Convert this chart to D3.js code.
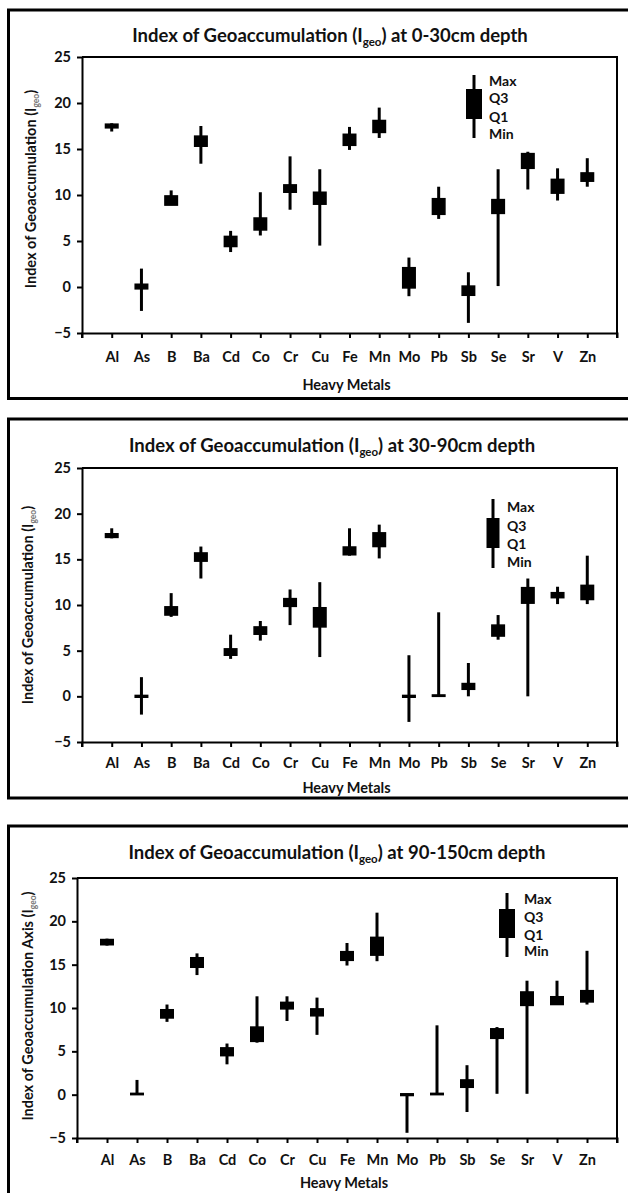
<!DOCTYPE html>
<html><head><meta charset="utf-8">
<script src="https://cdn.jsdelivr.net/npm/d3@7"></script>
<style>
html,body{margin:0;padding:0;background:#fff;}
svg{display:block;}
text{font-family:Lato,"Open Sans",sans-serif;font-weight:700;fill:#111;}
</style></head>
<body>
<svg id="chart" width="628" height="1193"></svg>
<script>
// ---- data ----
const categories = ["Al","As","B","Ba","Cd","Co","Cr","Cu","Fe","Mn","Mo","Pb","Sb","Se","Sr","V","Zn"];
const yTicks = [-5,0,5,10,15,20,25];
const depthLabels = ["0-30cm","30-90cm","90-150cm"];
const legendLabels = ["Max","Q3","Q1","Min"];
const xAxisTitle = "Heavy Metals";
const yAxisTitles = ["Index of Geoaccumulation  (I","Index of Geoaccumulation  (I","Index of Geoaccumulation  Axis (I"];

// 0-30 cm
const min1 = [16.9,-2.6,8.9,13.4,3.8,5.6,8.4,4.5,14.9,16.2,-1.0,7.4,-3.9,0.1,10.6,9.4,10.9];
const q1_1 = [17.3,-0.2,8.9,15.3,4.4,6.2,10.3,9.0,15.4,16.8,-0.1,7.9,-0.9,8.0,12.9,10.2,11.5];
const q3_1 = [17.7,0.3,9.9,16.4,5.5,7.5,11.1,10.3,16.6,18.1,2.1,9.6,0.1,9.5,14.5,11.7,12.4];
const max1 = [17.8,2.0,10.5,17.5,6.1,10.3,14.2,12.8,17.4,19.5,3.2,10.9,1.6,12.8,14.7,12.9,14.0];
// 30-90 cm
const min2 = [17.3,-2.0,8.7,12.9,4.1,6.1,7.8,4.3,15.4,15.1,-2.8,0,0,6.2,0,10.1,10.1];
const q1_2 = [17.4,-0.1,8.9,14.8,4.5,6.8,9.85,7.6,15.5,16.4,-0.1,0,0.77,6.6,10.2,10.8,10.6];
const q3_2 = [17.8,0.1,9.8,15.7,5.2,7.6,10.7,9.7,16.35,17.9,0.1,0.15,1.4,7.8,11.9,11.35,12.15];
const max2 = [18.4,2.1,11.3,16.4,6.75,8.25,11.7,12.5,18.4,18.8,4.5,9.2,3.65,8.9,12.9,12.0,15.4];
// 90-150 cm
const min3 = [17.2,0,8.4,13.8,3.5,6.0,8.5,6.9,14.9,15.4,-4.4,0,-2.0,0.1,0.1,10.4,10.4];
const q1_3 = [17.3,0,8.85,14.7,4.5,6.15,9.9,9.1,15.5,16.1,-0.1,0,0.85,6.5,10.3,10.4,10.7];
const q3_3 = [17.9,0.15,9.8,15.8,5.4,7.8,10.65,9.9,16.5,18.15,0.1,0.15,1.7,7.6,11.85,11.3,12.0];
const max3 = [18.0,1.7,10.4,16.3,5.9,11.35,11.35,11.2,17.5,21.0,0.1,8.0,3.4,7.8,13.15,13.15,16.6];

const seriesByPanel = [
  {min:min1,q1:q1_1,q3:q3_1,max:max1},
  {min:min2,q1:q1_2,q3:q3_2,max:max2},
  {min:min3,q1:q1_3,q3:q3_3,max:max3}
];

// ---- layout (pixels) ----
const layouts = [
  {frameTop:10, frameBottom:398.5, left:82, right:617, top:57, bottom:333, titleY:36, titleX:330,
   xLabY:357, xTitleY:385, yTitleX:31, yTitleY:189,
   leg:{x:474, wTop:75, wBot:138, bTop:89, bBot:119, bw:16, lx:489, ly:[81,98,117,134]}},
  {frameTop:419, frameBottom:798, left:82, right:617, top:468, bottom:742, titleY:446, titleX:332,
   xLabY:763, xTitleY:788, yTitleX:28, yTitleY:605,
   leg:{x:493, wTop:499, wBot:568, bTop:518, bBot:548, bw:13, lx:507, ly:[507,526,544,562]}},
  {frameTop:826, frameBottom:1205, left:77, right:617, top:878, bottom:1138, titleY:853, titleX:337,
   xLabY:1160, xTitleY:1183, yTitleX:28, yTitleY:1006,
   leg:{x:507, wTop:893, wBot:957, bTop:909, bBot:938, bw:16, lx:524, ly:[899,917,935,951]}}
];

const svg = d3.select("#chart");
const boxW = 12.5;

layouts.forEach((L, p) => {
  const S = seriesByPanel[p];
  const g = svg.append("g");

  // outer frame
  g.append("rect").attr("x",8.5).attr("y",L.frameTop).attr("width",640)
    .attr("height",L.frameBottom-L.frameTop).attr("fill","none")
    .attr("stroke","#000").attr("stroke-width",3);

  const x = d3.scalePoint().domain(categories).range([L.left, L.right]).padding(1);
  const y = d3.scaleLinear().domain([-5,25]).range([L.bottom, L.top]);

  // plot area top/right border
  g.append("path").attr("d",`M${L.left},${L.top}H${L.right}V${L.bottom}`)
    .attr("fill","none").attr("stroke","#000").attr("stroke-width",2);

  // y axis
  const ya = g.append("g").attr("transform",`translate(${L.left},0)`)
    .call(d3.axisLeft(y).tickValues(yTicks).tickSize(5).tickPadding(6).tickSizeOuter(0));
  ya.select(".domain").attr("stroke","#000").attr("stroke-width",2);
  ya.selectAll(".tick line").attr("stroke","#000").attr("stroke-width",2);
  ya.selectAll(".tick text").attr("font-size",14.5).attr("font-family","Lato").attr("font-weight",700).attr("fill","#111");

  // x axis
  const xa = g.append("g").attr("transform",`translate(0,${L.bottom})`)
    .call(d3.axisBottom(x).tickSize(5).tickSizeOuter(5).tickPadding(0));
  xa.select(".domain").attr("stroke","#000").attr("stroke-width",2);
  xa.selectAll(".tick line").attr("stroke","#000").attr("stroke-width",2);
  xa.selectAll(".tick text").attr("font-size",14.5).attr("font-family","Lato").attr("font-weight",700)
    .attr("fill","#111").attr("y", L.xLabY - L.bottom).attr("dy","0.35em");
  // end ticks
  [L.left, L.right].forEach(px => {
    g.append("line").attr("x1",px).attr("x2",px).attr("y1",L.bottom).attr("y2",L.bottom+5)
      .attr("stroke","#000").attr("stroke-width",2);
  });

  // title
  const t = g.append("text").attr("x",L.titleX).attr("y",L.titleY).attr("dy","0.35em")
    .attr("text-anchor","middle").attr("font-size",18.5);
  t.append("tspan").text("Index of Geoaccumulation (I");
  t.append("tspan").text("geo").attr("font-size",11.5).attr("dy",4);
  t.append("tspan").text(`) at ${depthLabels[p]} depth`).attr("dy",-4);

  // x axis title
  g.append("text").attr("x",(L.left+L.right)/2 - 3).attr("y",L.xTitleY).attr("dy","0.35em")
    .attr("text-anchor","middle").attr("font-size",14.5).text(xAxisTitle);

  // y axis title
  const yt = g.append("text").attr("transform",`translate(${L.yTitleX},${L.yTitleY}) rotate(-90)`)
    .attr("dy","0.35em").attr("text-anchor","middle").attr("font-size",14.5);
  yt.append("tspan").text(yAxisTitles[p]);
  yt.append("tspan").text("geo").attr("font-size",8.5).attr("dy",3).attr("fill","#777");
  yt.append("tspan").text(")").attr("dy",-3);

  // box-whisker marks
  const rows = categories.map((c,i) => ({c, min:S.min[i], q1:S.q1[i], q3:S.q3[i], max:S.max[i]}));
  const mg = g.append("g");
  mg.selectAll("line.wh").data(rows).join("line").attr("class","wh")
    .attr("x1",d=>x(d.c)).attr("x2",d=>x(d.c))
    .attr("y1",d=>y(d.max)).attr("y2",d=>y(d.min))
    .attr("stroke","#000").attr("stroke-width",3);
  mg.selectAll("rect.bx").data(rows).join("rect").attr("class","bx")
    .attr("x",d=>x(d.c)-boxW/2).attr("width",boxW)
    .attr("y",d=>y(d.q3)).attr("height",d=>Math.max(0,y(d.q1)-y(d.q3)))
    .attr("fill","#000").attr("stroke","#000").attr("stroke-width",1.5);

  // legend
  const lg = g.append("g");
  lg.append("line").attr("x1",L.leg.x).attr("x2",L.leg.x).attr("y1",L.leg.wTop).attr("y2",L.leg.wBot)
    .attr("stroke","#000").attr("stroke-width",3);
  lg.append("rect").attr("x",L.leg.x-L.leg.bw/2).attr("width",L.leg.bw)
    .attr("y",L.leg.bTop).attr("height",L.leg.bBot-L.leg.bTop).attr("fill","#000");
  lg.selectAll("text").data(legendLabels).join("text")
    .attr("x",L.leg.lx).attr("y",(d,i)=>L.leg.ly[i]).attr("dy","0.35em")
    .attr("font-size",14).text(d=>d);
});
</script>
</body></html>
